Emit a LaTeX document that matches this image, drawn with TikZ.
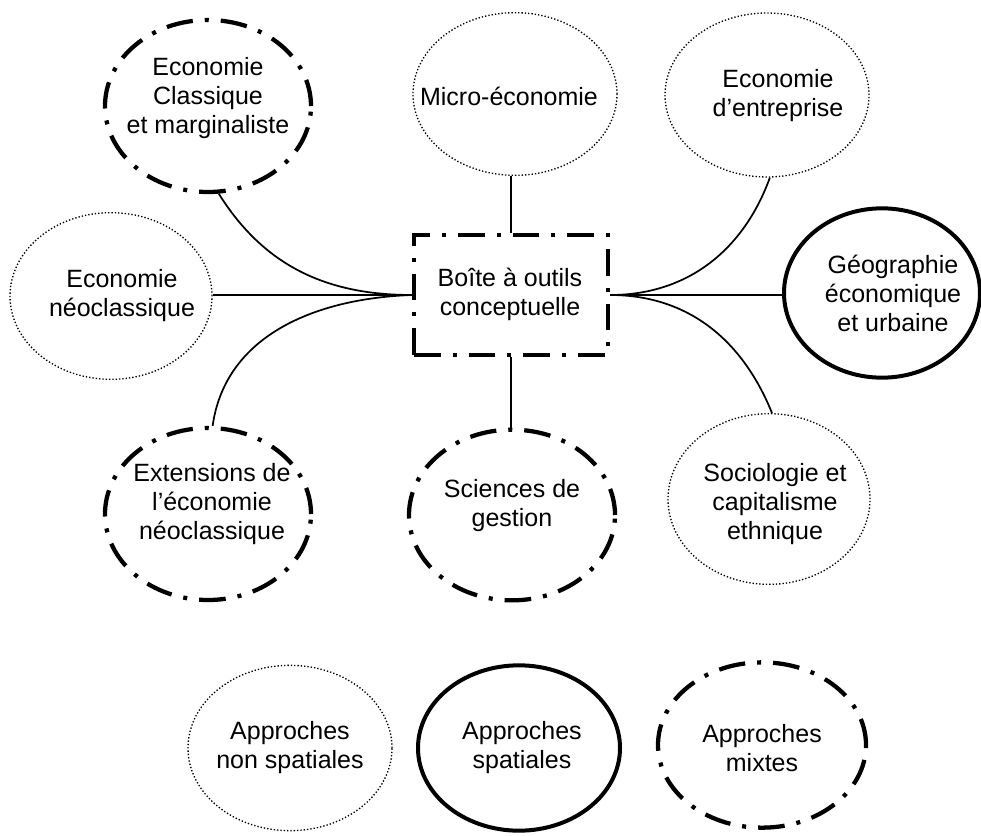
\documentclass[tikz,border=0pt]{standalone}
\usepackage{fontspec}
\setmainfont{Liberation Sans}
\usetikzlibrary{shapes.geometric}
\begin{document}
\begin{tikzpicture}[x=0.75pt,y=-0.75pt,
  dotted oval/.style={draw, line width=1pt, dash pattern=on 1pt off 1.5pt},
  solid oval/.style={draw, line width=3pt},
  dashdot oval/.style={draw, line width=3.2pt, dash pattern=on 20pt off 9pt on 3pt off 9pt},
  txt/.style={align=center, inner sep=0pt, font=\fontsize{18.75}{21.75}\selectfont},
  link/.style={line width=1.3pt}]
\useasboundingbox (0,0) rectangle (981,835);

% ellipses (width, height in pt)
\node[ellipse, inner sep=0pt, minimum width=154.5pt, minimum height=129pt, dashdot oval] (cls) at (208,106) {};
\node[ellipse, inner sep=0pt, minimum width=153pt, minimum height=122pt, dotted oval] (mic) at (515,94) {};
\node[ellipse, inner sep=0pt, minimum width=153pt, minimum height=123pt, dotted oval] (ent) at (767,95) {};
\node[ellipse, inner sep=0pt, minimum width=151.5pt, minimum height=125pt, dotted oval] (neo) at (111,296) {};
\node[ellipse, inner sep=0pt, minimum width=147pt, minimum height=127pt, solid oval] (geo) at (882,293) {};
\node[ellipse, inner sep=0pt, minimum width=154.5pt, minimum height=129pt, dashdot oval] (ext) at (208,514) {};
\node[ellipse, inner sep=0pt, minimum width=154.5pt, minimum height=128pt, dashdot oval] (sci) at (512,515) {};
\node[ellipse, inner sep=0pt, minimum width=151.5pt, minimum height=128pt, dotted oval] (soc) at (769,499) {};
\node[ellipse, inner sep=0pt, minimum width=153pt, minimum height=124pt, dotted oval] (ans) at (290,748) {};
\node[ellipse, inner sep=0pt, minimum width=151.5pt, minimum height=124pt, solid oval] (asp) at (519,748) {};
\node[ellipse, inner sep=0pt, minimum width=156pt, minimum height=124pt, dashdot oval] (amx) at (762,745) {};

% central box
\node[rectangle, inner sep=0pt, minimum width=145.5pt, minimum height=90pt, dashdot oval] (box) at (511,295) {};

% texts
\node[txt] (tcls) at (208,98) {Economie\\Classique\\et marginaliste};
\node[txt] (tmic) at (509,96) {Micro-économie};
\node[txt] (tent) at (778,96) {Economie\\d'entreprise};
\node[txt] (tneo) at (122,296) {Economie\\néoclassique};
\node[txt] (tgeo) at (893,293) {Géographie\\économique\\et urbaine};
\node[txt] (tbox) at (510,294) {Boîte à outils\\conceptuelle};
\node[txt] (text) at (212,504) {Extensions de\\l'économie\\néoclassique};
\node[txt] (tsci) at (512,506) {Sciences de\\gestion};
\node[txt] (tsoc) at (775,504) {Sociologie et\\capitalisme\\ethnique};
\node[txt] (tans) at (290,748) {Approches\\non spatiales};
\node[txt] (tasp) at (522,748) {Approches\\spatiales};
\node[txt] (tamx) at (762,748) {Approches\\mixtes};

% connectors
\draw[link] (box.north) -- (box.north |- mic.south);
\draw[link] (box.south) -- (box.south |- sci.north);
\draw[link] (neo.east |- box.west) -- (box.west);
\draw[link] (geo.west |- box.east) -- (box.east);
\draw[link] (cls.-83) to[out=-58, in=180] (box.west);
\draw[link] (ext.87) to[out=82, in=182] (box.west);
\draw[link] (ent.-88) to[out=-110, in=0] (box.east);
\draw[link] (soc.88) to[out=112, in=0] (box.east);
\end{tikzpicture}
\end{document}
